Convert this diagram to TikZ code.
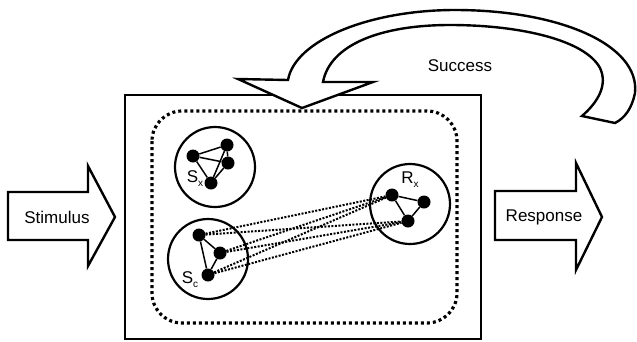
\documentclass[tikz,border=0pt]{standalone}
\usepackage{fontspec}
\setmainfont{Liberation Sans}
\newcommand{\lowidx}[1]{\raisebox{-0.45ex}{\fontsize{10}{12}\selectfont #1}}
\begin{document}
\begin{tikzpicture}[x=1pt,y=-1pt]
              \tikzstyle{every node}+=[inner sep=0pt,font=\fontsize{17}{20}\selectfont]
              \tikzstyle{dot}=[circle,fill=black,minimum size=13pt]
              \tikzstyle{group}=[circle,draw=black,line width=2.2pt,minimum size=80pt]
              \tikzstyle{link}=[black,line width=1.5pt]
              \tikzstyle{assoc}=[black,line width=2pt,dash pattern=on 2pt off 1.5pt]
              \tikzstyle{bigarrow}=[draw=black,fill=white,line width=2.4pt,line join=miter]
              \useasboundingbox (0,0) rectangle (637,341);
              \draw [black,line width=2.5pt] (125,95) rectangle (481,339);
              \draw [black,line width=3.2pt,dash pattern=on 3pt off 3pt,rounded corners=30pt] (152,111) rectangle (457,323);
              \draw [bigarrow] (288,80) .. controls (295,40) and (370,10) .. (455,10)
                .. controls (560,10) and (640,45) .. (635,93)
                .. controls (632,108) and (625,118) .. (615,123) -- (582,116)
                .. controls (598,102) and (608,85) .. (600,68)
                .. controls (585,40) and (520,25) .. (450,25)
                .. controls (380,25) and (330,45) .. (323,82)
                -- (373,82) -- (302,108) -- (238,79) -- cycle;
              \node (success) at (460,66) {Success};
              \draw [bigarrow] (8,192) -- (88,192) -- (88,166) -- (115,217) -- (88,266) -- (88,240) -- (8,240) -- cycle;
              \node (stimulus) at (57,217) {Stimulus};
              \draw [bigarrow] (495,191) -- (576,191) -- (576,163) -- (602,217) -- (576,270) -- (576,240) -- (495,240) -- cycle;
              \node (response) at (544,217) {Response};
              \node [group] (sx) at (215,167) {};
              \node [group] (sc) at (208,259) {};
              \node [group] (rx) at (410,204) {};
              \node [dot] (sx1) at (193,156) {};
              \node [dot] (sx2) at (227,145) {};
              \node [dot] (sx3) at (228,163) {};
              \node [dot] (sx4) at (211,183) {};
              \node [dot] (sc1) at (199,235) {};
              \node [dot] (sc2) at (220,253) {};
              \node [dot] (sc3) at (208,275) {};
              \node [dot] (rx1) at (392,195) {};
              \node [dot] (rx2) at (424,202) {};
              \node [dot] (rx3) at (408,221) {};
              \foreach \a/\b in {sx1/sx2,sx1/sx3,sx1/sx4,sx2/sx3,sx2/sx4,sx3/sx4,sc1/sc2,sc1/sc3,sc2/sc3,rx1/rx2,rx1/rx3,rx2/rx3}
                \draw [link] (\a) -- (\b);
              \foreach \a in {sc1,sc2,sc3}
                \foreach \b in {rx1,rx3}
                  \draw [assoc] (\a) -- (\b);
              \node (sxlabel) at (195,179) {S\lowidx{x}};
              \node (sclabel) at (190,280) {S\lowidx{c}};
              \node (rxlabel) at (410,180) {R\lowidx{x}};
            \end{tikzpicture}
\end{document}
